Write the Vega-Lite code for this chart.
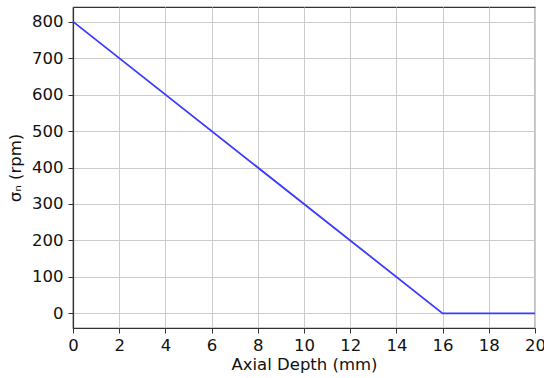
{
  "$schema": "https://vega.github.io/schema/vega-lite/v6.json",
  "width": 462,
  "height": 321,
  "autosize": {"type": "none"},
  "padding": {"left": 73, "top": 7, "right": 9, "bottom": 50},
  "background": "white",
  "config": {
    "font": "DejaVu Sans",
    "view": {"stroke": "#333333", "strokeWidth": 1.2},
    "axis": {
      "labelFont": "DejaVu Sans",
      "titleFont": "DejaVu Sans",
      "labelFontSize": 16.5,
      "titleFontSize": 16.5,
      "titleFontWeight": "normal",
      "labelColor": "#111111",
      "titleColor": "#111111",
      "domainColor": "#333333",
      "domainWidth": 1.2,
      "tickColor": "#333333",
      "tickSize": 5,
      "tickWidth": 1,
      "gridColor": "#cccccc",
      "gridWidth": 1,
      "labelPadding": 4
    }
  },
  "data": {
    "values": [
      {"depth": 0, "sigma": 800},
      {"depth": 16, "sigma": 0},
      {"depth": 20, "sigma": 0}
    ]
  },
  "mark": {"type": "line", "color": "#3b3bff", "strokeWidth": 1.8},
  "encoding": {
    "x": {
      "field": "depth",
      "type": "quantitative",
      "scale": {"domain": [0, 20], "nice": false, "zero": false},
      "axis": {"values": [0, 2, 4, 6, 8, 10, 12, 14, 16, 18, 20], "title": "Axial Depth (mm)", "titlePadding": 3, "labelFlush": false}
    },
    "y": {
      "field": "sigma",
      "type": "quantitative",
      "scale": {"domain": [-40, 840], "nice": false, "zero": false},
      "axis": {"values": [0, 100, 200, 300, 400, 500, 600, 700, 800], "title": "σₙ (rpm)", "titlePadding": 8, "labelFlush": false, "labelPadding": 5}
    }
  }
}
